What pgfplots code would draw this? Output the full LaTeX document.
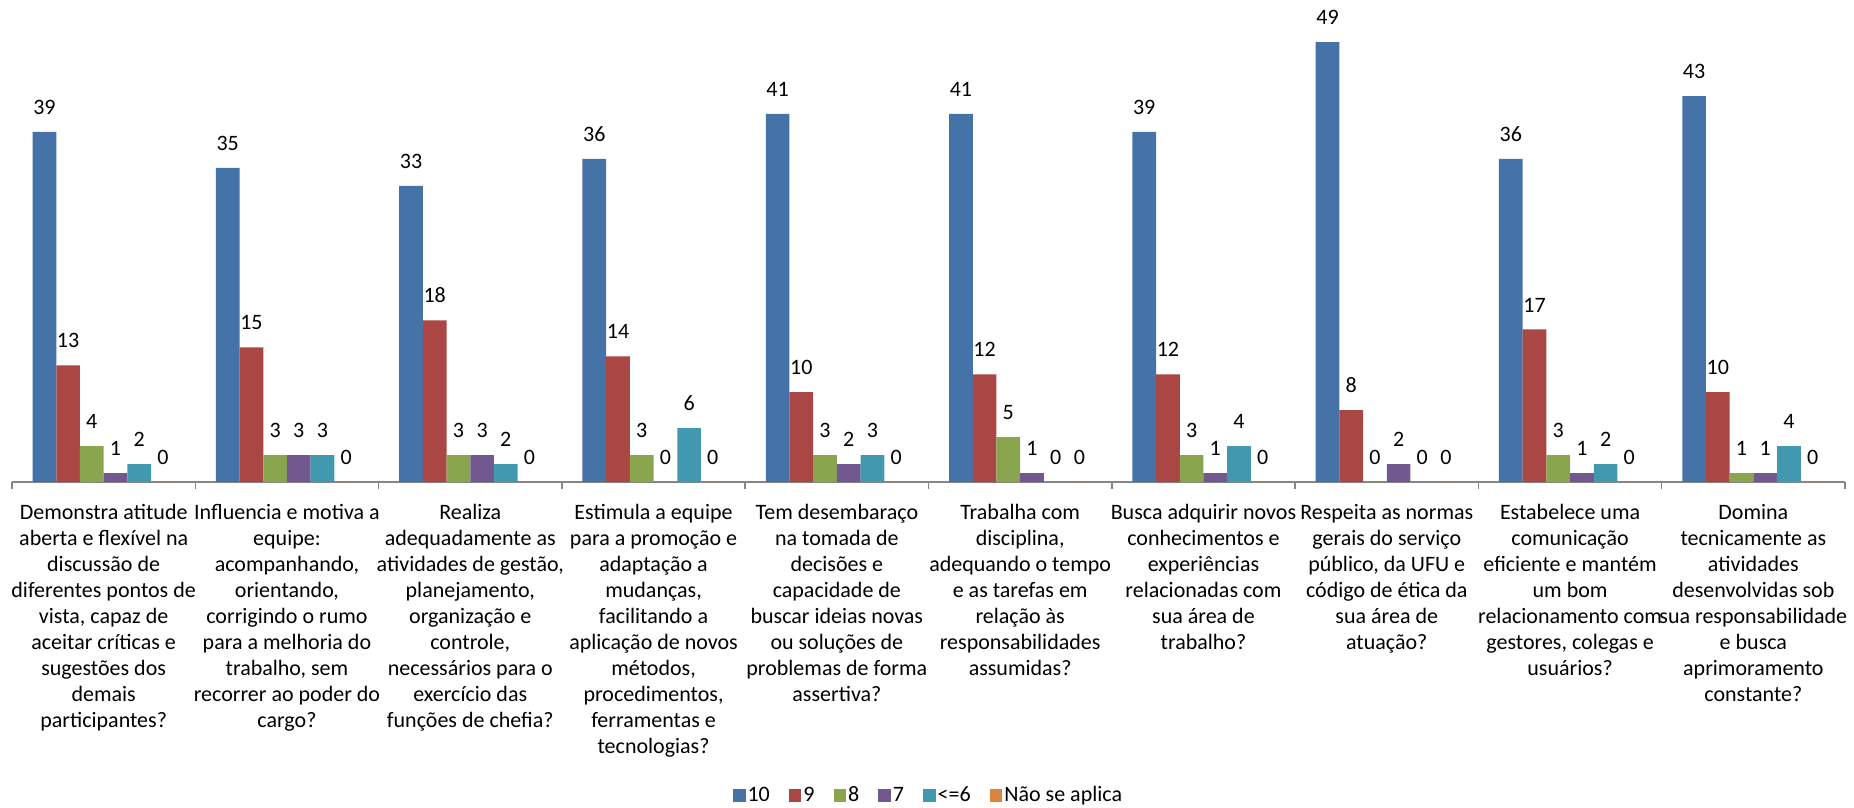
\documentclass[border=0pt]{standalone}
\usepackage{pgfplots}
\pgfplotsset{compat=1.18}
\usepackage{fontspec}
\setmainfont{Carlito}
\definecolor{cA}{HTML}{4572A7}
\definecolor{cB}{HTML}{AA4643}
\definecolor{cC}{HTML}{89A54E}
\definecolor{cD}{HTML}{71588F}
\definecolor{cE}{HTML}{4198AF}
\definecolor{cF}{HTML}{DB843D}
\definecolor{axisgray}{HTML}{868686}
\begin{document}
\begin{tikzpicture}
\useasboundingbox (-6bp,-163bp) rectangle (921bp,241bp);
\begin{axis}[
  at={(0,0)}, anchor=south west,
  scale only axis, width=916.5bp, height=241bp,
  xmin=-0.5, xmax=9.5, ymin=0, ymax=53.7,
  ybar=0pt, bar width=11.85bp,
  axis x line*=bottom, axis y line=none,
  ytick=\empty,
  xtick={0,...,9},
  xticklabels={
    {Demonstra atitude\\aberta e flexível na\\discussão de\\diferentes pontos de\\vista, capaz de\\aceitar críticas e\\sugestões dos\\demais\\participantes?},
    {Influencia e motiva a\\equipe:\\acompanhando,\\orientando,\\corrigindo o rumo\\para a melhoria do\\trabalho, sem\\recorrer ao poder do\\cargo?},
    {Realiza\\adequadamente as\\atividades de gestão,\\planejamento,\\organização e\\controle,\\necessários para o\\exercício das\\funções de chefia?},
    {Estimula a equipe\\para a promoção e\\adaptação a\\mudanças,\\facilitando a\\aplicação de novos\\métodos,\\procedimentos,\\ferramentas e\\tecnologias?},
    {Tem desembaraço\\na tomada de\\decisões e\\capacidade de\\buscar ideias novas\\ou soluções de\\problemas de forma\\assertiva?},
    {Trabalha com\\disciplina,\\adequando o tempo\\e as tarefas em\\relação às\\responsabilidades\\assumidas?},
    {Busca adquirir novos\\conhecimentos e\\experiências\\relacionadas com\\sua área de\\trabalho?},
    {Respeita as normas\\gerais do serviço\\público, da UFU e\\código de ética da\\sua área de\\atuação?},
    {Estabelece uma\\comunicação\\eficiente e mantém\\um bom\\relacionamento com\\gestores, colegas e\\usuários?},
    {Domina\\tecnicamente as\\atividades\\desenvolvidas sob\\sua responsabilidade\\e busca\\aprimoramento\\constante?}
  },
  minor xtick={-0.5,0.5,...,9.5},
  major tick length=0pt, minor tick length=3.5bp, tick align=outside,
  x axis line style={color=axisgray, line width=0.75bp},
  every tick/.style={color=axisgray, line width=0.75bp},
  xticklabel style={align=center, font={\fontsize{11bp}{13bp}\selectfont}, text=black, yshift=-7.5bp},
  nodes near coords,
  nodes near coords style={font={\fontsize{11bp}{13bp}\selectfont}, anchor=south, inner sep=0bp, yshift=8.5bp, text=black},
  /pgf/number format/assume math mode=true,
  clip=false,
  legend columns=-1,
  legend style={at={(0.5,-0.651)}, anchor=center, draw=none, fill=none,
    font={\fontsize{11bp}{13bp}\selectfont},
    nodes={inner sep=1bp},
    /tikz/every even column/.append style={column sep=8.5bp}},
  legend image code/.code={\fill[#1] (0bp,-3.15bp) rectangle (6.3bp,3.15bp);},
]
\addplot[fill=cA, draw=none] coordinates {(0,39) (1,35) (2,33) (3,36) (4,41) (5,41) (6,39) (7,49) (8,36) (9,43)};
\addplot[fill=cB, draw=none] coordinates {(0,13) (1,15) (2,18) (3,14) (4,10) (5,12) (6,12) (7,8) (8,17) (9,10)};
\addplot[fill=cC, draw=none] coordinates {(0,4) (1,3) (2,3) (3,3) (4,3) (5,5) (6,3) (7,0) (8,3) (9,1)};
\addplot[fill=cD, draw=none] coordinates {(0,1) (1,3) (2,3) (3,0) (4,2) (5,1) (6,1) (7,2) (8,1) (9,1)};
\addplot[fill=cE, draw=none] coordinates {(0,2) (1,3) (2,2) (3,6) (4,3) (5,0) (6,4) (7,0) (8,2) (9,4)};
\addplot[fill=cF, draw=none] coordinates {(0,0) (1,0) (2,0) (3,0) (4,0) (5,0) (6,0) (7,0) (8,0) (9,0)};
\legend{10,9,8,7,{<=6},Não se aplica}
\end{axis}
\end{tikzpicture}
\end{document}
